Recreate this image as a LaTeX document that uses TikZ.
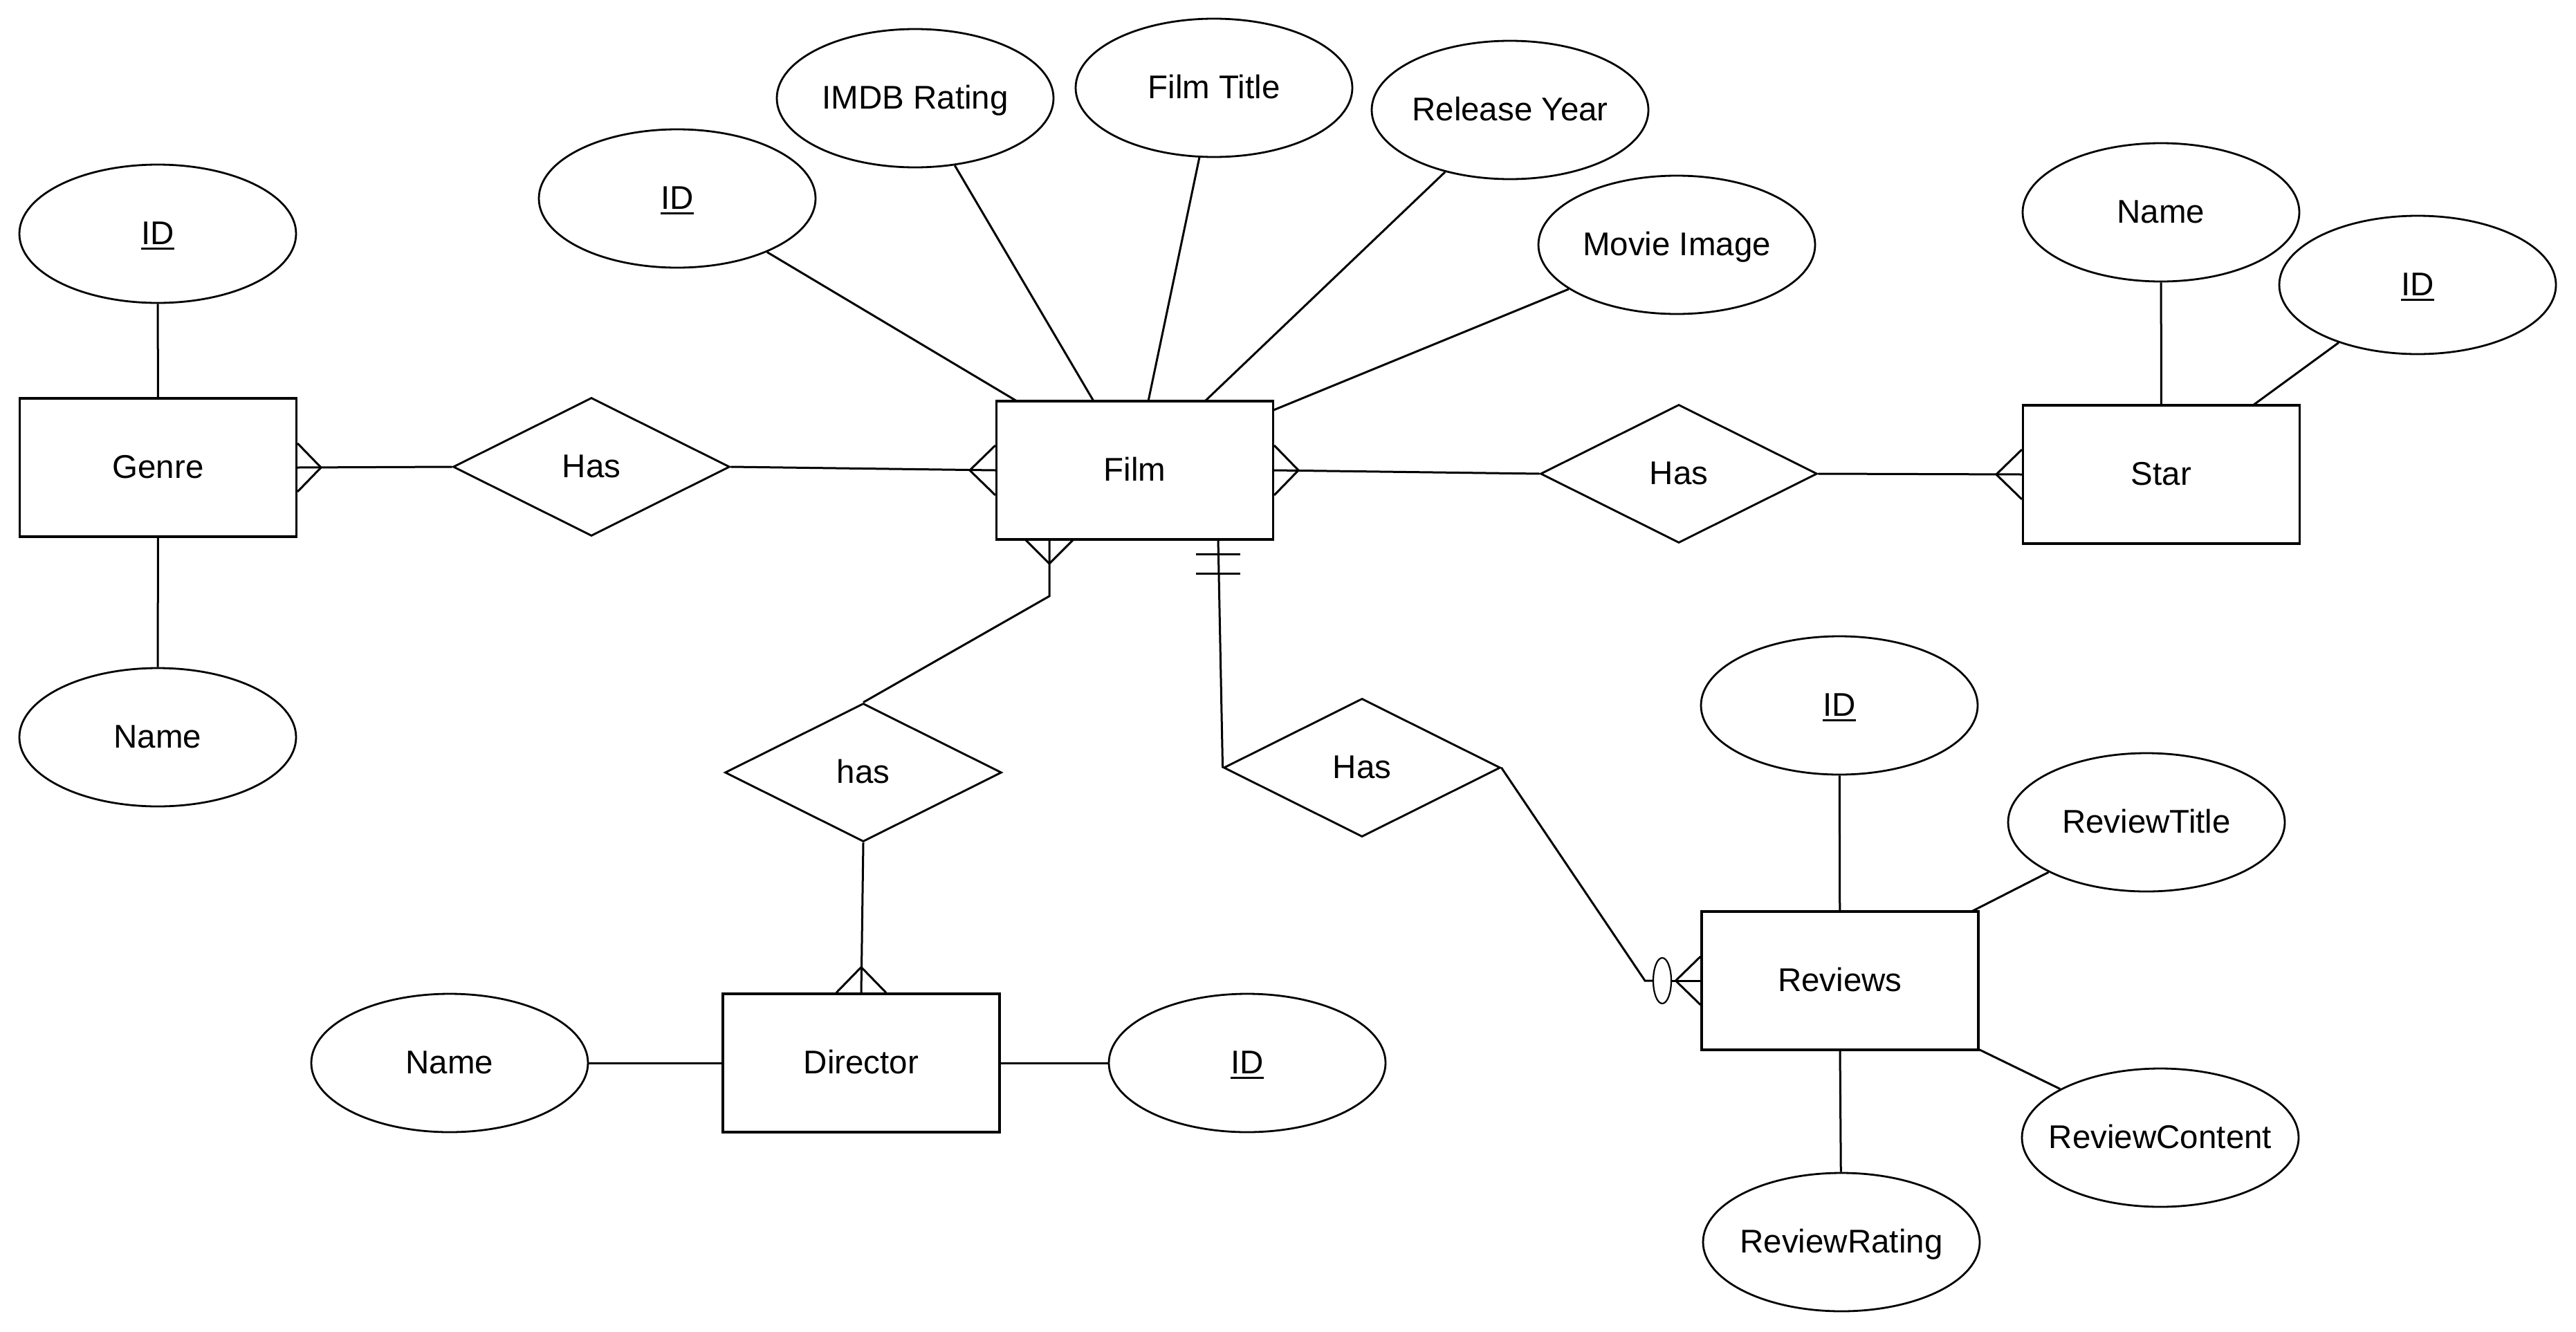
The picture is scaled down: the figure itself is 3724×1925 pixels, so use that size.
\documentclass[tikz,border=0pt]{standalone}
\usepackage{fontspec}
\setmainfont{Liberation Sans}
\usetikzlibrary{shapes.geometric,calc}
\newcommand\zw[1]{\makebox[0pt]{#1}}
\newcommand\uln[1]{\setbox0\hbox{#1}\rlap{\rule[-0.15em]{\wd0}{0.065em}}\box0}
\begin{document}
\begin{tikzpicture}[x=1pt,y=-1pt,
  every node/.style={font=\fontsize{47.5}{57}\selectfont, text height=33pt, text depth=2pt, inner sep=0pt},
  ent/.style={draw, line width=3.2pt, rectangle, minimum width=400pt, minimum height=200pt, fill=white},
  attr/.style={draw, line width=2.8pt, ellipse, minimum width=400pt, minimum height=200pt, fill=white},
  rel/.style={draw, line width=2.9pt, diamond, minimum width=400pt, minimum height=200pt, fill=white},
  optc/.style={draw, line width=2.2pt, ellipse, minimum width=26pt, minimum height=66pt, fill=white, text height=0pt, text depth=0pt},
  conn/.style={line width=3pt}]
\fill[white] (0,0) rectangle (3724,1925);
\useasboundingbox (0,0) rectangle (3724,1925);
% entities, attributes, relations
\node[ent] (genre) at (228.5,676) {Genre};
\node[attr] (gid) at (228,338) {\zw{\uln{ID}}};
\node[attr] (gname) at (228,1066) {\zw{Name}};
\node[rel] (has1) at (855,675) {\zw{Has}};
\node[ent] (film) at (1640.5,680) {Film};
\node[attr] (fid) at (979,287) {\zw{\uln{ID}}};
\node[attr] (imdb) at (1323,142) {\zw{IMDB Rating}};
\node[attr] (ftitle) at (1755,127) {\zw{Film Title}};
\node[attr] (ryear) at (2183,159) {\zw{Release Year}};
\node[attr] (mimg) at (2424,354) {\zw{Movie Image}};
\node[rel] (has3) at (2427,685) {\zw{Has}};
\node[ent] (star) at (3124.5,686) {Star};
\node[attr] (sname) at (3124,307) {\zw{Name}};
\node[attr] (sid) at (3495,412) {\zw{\uln{ID}}};
\node[rel] (has) at (1248,1117) {\zw{has}};
\node[ent] (dir) at (1245,1537) {Director};
\node[attr] (dname) at (650,1537) {\zw{Name}};
\node[attr] (did) at (1803,1537) {\zw{\uln{ID}}};
\node[rel] (has2) at (1969,1110) {\zw{Has}};
\node[ent] (rev) at (2660,1418) {Reviews};
\node[attr] (rid) at (2659,1020) {\zw{\uln{ID}}};
\node[attr] (rtitle) at (3103,1189) {\zw{ReviewTitle}};
\node[attr] (rcont) at (3123,1645) {\zw{ReviewContent}};
\node[attr] (rrat) at (2662,1796) {\zw{ReviewRating}};
\node[optc] (opt) at (2403,1418) {};
% connector points
\coordinate (p1) at (1470,580);
\coordinate (p2) at (1581,580);
\coordinate (p3) at (1660,580);
\coordinate (p4) at (1742,580);
\coordinate (p5) at (1841,593);
\coordinate (ps) at (3257,586);
\coordinate (pt) at (2850,1318);
\coordinate (pc) at (2860,1517);
\coordinate (prr) at (2660,1518);
\coordinate (fb1) at (1517,780);
\coordinate (k1) at (1517,862);
\coordinate (fb2) at (1761,780);
\coordinate (k2) at (2378,1418);
% attribute links
\draw[conn] (gid) -- (genre);
\draw[conn] (gname) -- (genre);
\draw[conn] (fid) -- (p1);
\draw[conn] (imdb) -- (p2);
\draw[conn] (ftitle) -- (p3);
\draw[conn] (ryear) -- (p4);
\draw[conn] (mimg) -- (p5);
\draw[conn] (sname) -- (star);
\draw[conn] (sid) -- (ps);
\draw[conn] (dname) -- (dir);
\draw[conn] (did) -- (dir);
\draw[conn] (rid) -- (rev);
\draw[conn] (rtitle) -- (pt);
\draw[conn] (rcont) -- (pc);
\draw[conn] (rrat) -- (prr);
% relationships
\draw[conn] (genre.east) -- (has1.west);
\draw[conn] ($(genre.east)+(0,-35)$) -- ($(genre.east)+(34,0)$) -- ($(genre.east)+(0,35)$);
\draw[conn] (has1.east) -- (film.west);
\draw[conn] ($(film.west)+(0,-36)$) -- ($(film.west)+(-37,0)$) -- ($(film.west)+(0,36)$);
\draw[conn] (film.east) -- (has3.west);
\draw[conn] ($(film.east)+(0,-36)$) -- ($(film.east)+(35,0)$) -- ($(film.east)+(0,36)$);
\draw[conn] (has3.east) -- (star.west);
\draw[conn] ($(star.west)+(0,-36)$) -- ($(star.west)+(-37,0)$) -- ($(star.west)+(0,36)$);
\draw[conn] (fb1) -- (k1) -- (has.north);
\draw[conn] ($(fb1)+(-35,0)$) -- ($(fb1)+(0,35)$) -- ($(fb1)+(35,0)$);
\draw[conn] (has.south) -- (dir.north);
\draw[conn] ($(dir.north)+(-36,0)$) -- ($(dir.north)+(0,-37)$) -- ($(dir.north)+(36,0)$);
\draw[conn] (fb2) -- (has2.west);
\draw[conn] ($(fb2)+(-32,21)$) -- ($(fb2)+(32,21)$);
\draw[conn] ($(fb2)+(-32,49)$) -- ($(fb2)+(32,49)$);
\draw[conn] (has2.east) -- (k2) -- (opt.west);
\draw[conn] (opt.east) -- (rev.west);
\draw[conn] ($(rev.west)+(0,-35)$) -- ($(rev.west)+(-36,0)$) -- ($(rev.west)+(0,35)$);
\end{tikzpicture}
\end{document}
